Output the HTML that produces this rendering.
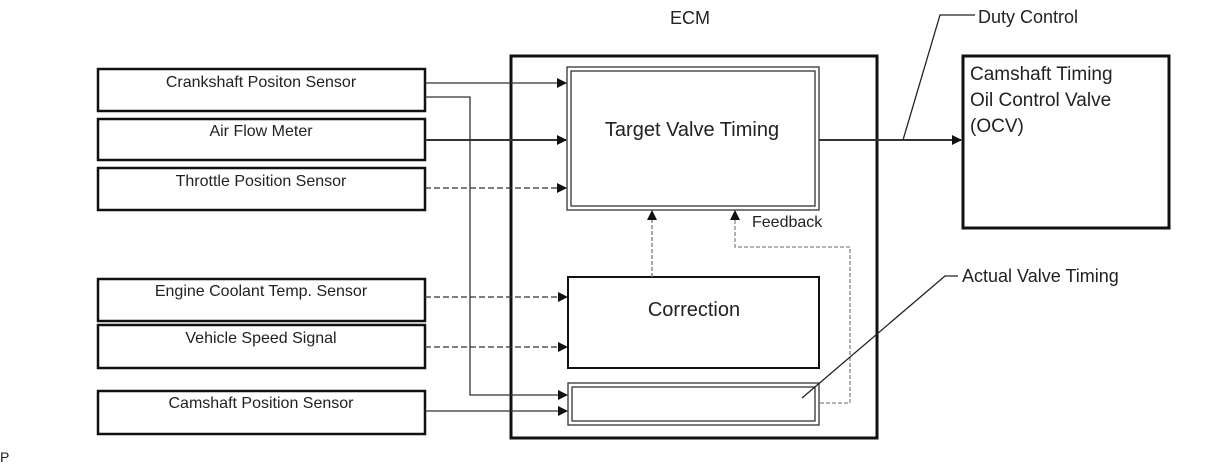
<!DOCTYPE html>
<html><head><style>
body{margin:0;background:#fff;width:1210px;height:466px;overflow:hidden;font-family:"Liberation Sans",sans-serif}
</style></head><body>
<svg width="1210" height="466" xmlns="http://www.w3.org/2000/svg" font-family="Liberation Sans, sans-serif" fill="#222">
<defs><marker id="a" markerWidth="10" markerHeight="10" refX="9" refY="5" orient="auto" markerUnits="userSpaceOnUse"><path d="M0,0L10,5L0,10z" fill="#111"/></marker></defs>
<g fill="none" stroke="#111" stroke-width="2.5">
<rect x="98" y="69" width="327" height="42"/>
<rect x="98" y="119" width="327" height="41"/>
<rect x="98" y="168" width="327" height="42"/>
<rect x="98" y="279" width="327" height="42"/>
<rect x="98" y="325" width="327" height="43"/>
<rect x="98" y="391" width="327" height="43"/>
<rect x="511" y="56" width="366" height="382" stroke-width="3"/>
<rect x="963" y="56" width="206" height="172" stroke-width="3"/>
<rect x="568" y="277" width="251" height="91" stroke-width="2"/>
</g>
<g fill="none" stroke="#333" stroke-width="1.3">
<rect x="567" y="67" width="252" height="143"/><rect x="571" y="71" width="244" height="135"/>
<rect x="568" y="383" width="251" height="42"/><rect x="572" y="387" width="243" height="34"/>
</g>
<g fill="none" stroke="#333" stroke-width="1.3" marker-end="url(#a)">
<path d="M425,83H566"/>
<path d="M425,140H566" stroke-width="2"/>
<path d="M425,188H566" stroke-dasharray="6,3"/>
<path d="M425,297H567" stroke-dasharray="6,3"/>
<path d="M425,347H567" stroke-dasharray="6,3"/>
<path d="M425,411H567"/>
<path d="M425,97H470V395H567"/>
<path d="M652,277V211" stroke="#777" stroke-dasharray="4,2"/>
<path d="M820,403H850V247H735V211" stroke="#888" stroke-dasharray="4,2"/>
<path d="M819,140H961" stroke-width="2"/>
</g>
<path d="M903,140L940,15H975" fill="none" stroke="#222" stroke-width="1.3"/>
<path d="M802,398L945,276H958" fill="none" stroke="#222" stroke-width="1.3"/>
<g font-size="16" text-anchor="middle">
<text x="261" y="87">Crankshaft Positon Sensor</text>
<text x="261" y="136">Air Flow Meter</text>
<text x="261" y="186">Throttle Position Sensor</text>
<text x="261" y="296">Engine Coolant Temp. Sensor</text>
<text x="261" y="343">Vehicle Speed Signal</text>
<text x="261" y="408">Camshaft Position Sensor</text>
</g>
<text x="690" y="24" font-size="18" text-anchor="middle">ECM</text>
<text x="692" y="136" font-size="20" text-anchor="middle">Target Valve Timing</text>
<text x="694" y="316" font-size="20" text-anchor="middle">Correction</text>
<text x="752" y="227" font-size="16">Feedback</text>
<text x="978" y="23" font-size="18">Duty Control</text>
<text x="962" y="282" font-size="18">Actual Valve Timing</text>
<text x="970" y="80" font-size="19">Camshaft Timing</text>
<text x="970" y="106" font-size="19">Oil Control Valve</text>
<text x="970" y="132" font-size="19">(OCV)</text>
<text x="0" y="462" font-size="14">P</text>
</svg>
</body></html>
